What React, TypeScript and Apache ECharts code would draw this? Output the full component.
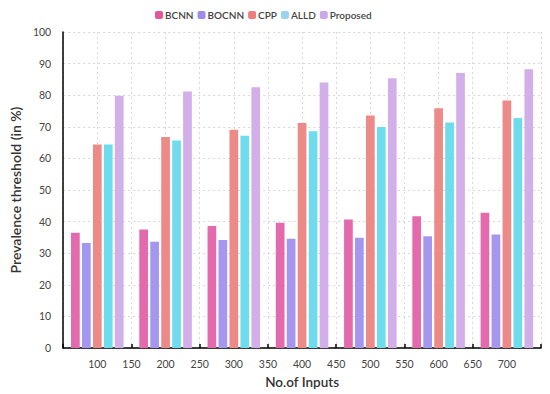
import React, { useEffect, useRef } from "react";
import * as echarts from "echarts";

const inputs = [100, 200, 300, 400, 500, 600, 700];
const bcnn = [36.5, 37.5, 38.6, 39.6, 40.7, 41.7, 42.8];
const bocnn = [33.2, 33.6, 34.2, 34.6, 34.9, 35.4, 35.9];
const cpp = [64.4, 66.8, 69.1, 71.2, 73.6, 75.9, 78.3];
const alld = [64.4, 65.7, 67.2, 68.6, 69.9, 71.4, 72.8];
const proposed = [79.8, 81.2, 82.5, 84.0, 85.4, 87.0, 88.2];

const seriesNames = ["BCNN", "BOCNN", "CPP", "ALLD", "Proposed"];
const seriesData = [bcnn, bocnn, cpp, alld, proposed];
const colors = ["#e36aac", "#a596ee", "#ec8a88", "#6fdcee", "#d2afe8"];
const legendColors = ["#e5559c", "#9d8cec", "#ee7d7d", "#9cd2ef", "#c9a8ec"];

export default function App() {
  const ref = useRef<HTMLDivElement>(null);
  useEffect(() => {
    if (!ref.current) return;
    const chart = echarts.init(ref.current, undefined, { renderer: "svg" });
    const font = "Lato";
    chart.setOption({
      animation: false,
      textStyle: { fontFamily: font },
      legend: {
        top: 5,
        left: 150,
        itemWidth: 8,
        itemHeight: 8,
        itemGap: 4,
        textStyle: { fontFamily: font, fontSize: 10, color: "#444", fontWeight: 600, padding: [0, 0, 0, -3] },
        data: seriesNames.map((n, i) => ({ name: n, itemStyle: { color: legendColors[i] } })),
      },
      grid: { left: 55, right: 9, top: 32, bottom: 45 },
      xAxis: {
        type: "value",
        min: 50,
        max: 750,
        interval: 50,
        name: "No.of Inputs",
        nameLocation: "middle",
        nameGap: 27,
        nameTextStyle: { fontFamily: font, fontSize: 13.5, color: "#333", fontWeight: 600 },
        axisLine: { show: true, onZero: false, lineStyle: { color: "#000", width: 1.5 } },
        axisTick: { show: true, inside: true, length: 4, lineStyle: { color: "#000", width: 1.5 } },
        axisLabel: {
          fontFamily: font,
          fontSize: 10.5,
          color: "#444",
          margin: 10,
          formatter: (v: number) => (v === 50 || v === 750 ? "" : String(v)),
        },
        splitLine: { show: true, lineStyle: { color: "#d8d8d8", type: [2, 3] } },
      },
      yAxis: {
        type: "value",
        min: 0,
        max: 100,
        interval: 10,
        name: "Prevalence threshold (in %)",
        nameLocation: "middle",
        nameGap: 30,
        nameTextStyle: { fontFamily: font, fontSize: 14, color: "#333", fontWeight: 600 },
        axisLine: { show: true, lineStyle: { color: "#000", width: 1.5 } },
        axisTick: { show: false },
        axisLabel: { fontFamily: font, fontSize: 10.5, color: "#444", margin: 12 },
        splitLine: { show: true, lineStyle: { color: "#d8d8d8", type: [2, 3] } },
      },
      series: seriesNames.map((n, i) => ({
        name: n,
        type: "bar",
        barWidth: 8.7,
        barGap: "26%",
        itemStyle: { color: colors[i] },
        data: inputs.map((x, j) => [x, seriesData[i][j]]),
      })),
    });
    return () => chart.dispose();
  }, []);
  return <div ref={ref} style={{ position: "absolute", left: 0, top: 0, width: 550, height: 394 }} />;
}
